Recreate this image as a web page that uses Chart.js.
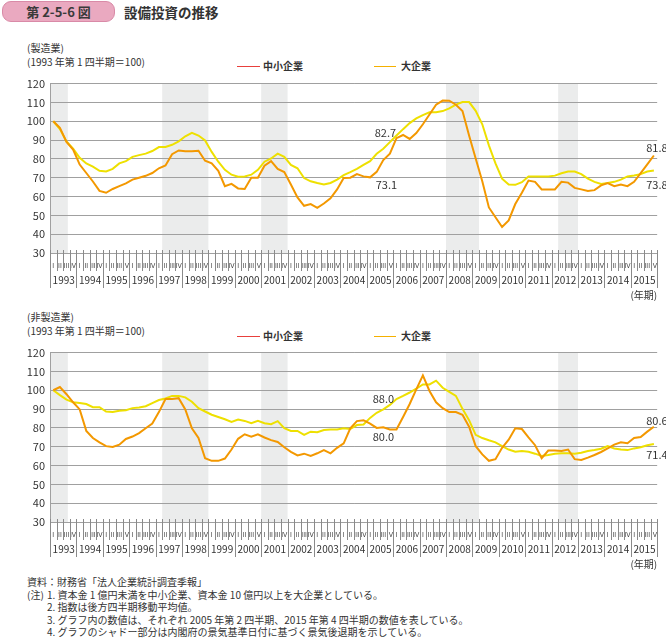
<!DOCTYPE html>
<html lang="ja">
<head>
<meta charset="utf-8">
<script src="https://cdn.jsdelivr.net/npm/chart.js@4.4.1/dist/chart.umd.min.js"></script>
<style>
  body { margin: 0; width: 666px; height: 641px; background: #fff; position: relative; overflow: hidden;
         font-family: "Noto Sans CJK JP", sans-serif; color: #333; }
  .t { position: absolute; white-space: nowrap; font-size: 10px; line-height: 12px; }
  .key { position: absolute; height: 1.5px; }
  .box { position: absolute; left: 2px; top: 1px; width: 111px; height: 19px; border-radius: 9px;
         background: #eaa9c0; border: 1px solid #d98aa7; text-align: center; line-height: 19px;
         font-size: 13px; font-weight: 700; color: #3a3a3a; }
  .chartbox { position: absolute; left: 0; width: 666px; height: 231px; }
  .notes { position: absolute; left: 27px; top: 576px; font-size: 10px; line-height: 12.5px; white-space: nowrap; }
  .notes .ind { padding-left: 20px; }
  .notes .lab { display: inline-block; width: 20px; }
</style>
</head>
<body>
<div class="box">第 2-5-6 図</div>
<div class="t" style="left:124px;top:2px;font-size:13.5px;line-height:20px;font-weight:700;">設備投資の推移</div>

<div class="t" style="left:27px;top:42px;">(製造業)</div>
<div class="t" style="left:27px;top:56px;">(1993 年第 1 四半期＝100)</div>
<div class="key" style="left:237px;top:65.5px;width:23px;background:#e8403c;"></div>
<div class="t" style="left:263px;top:60px;font-weight:700;">中小企業</div>
<div class="key" style="left:374px;top:65.5px;width:22px;background:#f5b000;"></div>
<div class="t" style="left:401px;top:60px;font-weight:700;">大企業</div>
<div class="chartbox" style="top:72px;"><canvas id="mfgChart"></canvas></div>

<div class="t" style="left:27px;top:311px;">(非製造業)</div>
<div class="t" style="left:27px;top:325px;">(1993 年第 1 四半期＝100)</div>
<div class="key" style="left:237px;top:335.5px;width:23px;background:#e8403c;"></div>
<div class="t" style="left:263px;top:330px;font-weight:700;">中小企業</div>
<div class="key" style="left:374px;top:335.5px;width:22px;background:#f5b000;"></div>
<div class="t" style="left:401px;top:330px;font-weight:700;">大企業</div>
<div class="chartbox" style="top:341px;"><canvas id="nonMfgChart"></canvas></div>

<div class="notes">
  <div>資料：財務省「法人企業統計調査季報」</div>
  <div><span class="lab">(注)</span>1. 資本金 1 億円未満を中小企業、資本金 10 億円以上を大企業としている。</div>
  <div class="ind">2. 指数は後方四半期移動平均値。</div>
  <div class="ind">3. グラフ内の数値は、それぞれ 2005 年第 2 四半期、2015 年第 4 四半期の数値を表している。</div>
  <div class="ind">4. グラフのシャドー部分は内閣府の景気基準日付に基づく景気後退期を示している。</div>
</div>

<script>
// 設備投資の推移（1993年第1四半期＝100、後方四半期移動平均）
const years = ['1993', '1994', '1995', '1996', '1997', '1998', '1999', '2000', '2001', '2002', '2003', '2004',
               '2005', '2006', '2007', '2008', '2009', '2010', '2011', '2012', '2013', '2014', '2015'];
const quarterNames = ['I', 'II', 'III', 'IV'];
const seriesNames = ['中小企業', '大企業'];

// 景気後退期（四半期番号：開始, 終了）
const recessions = [[0, 2.7], [17, 24], [32, 36], [60, 65], [77, 80]];

// 製造業
const mfgSmall = [
  100, 96.5, 89, 85, 77, 72.5, 68, 63, 62, 64, 65.5, 67, 69, 70, 71, 72.5,
  75, 76.5, 82.5, 84.5, 84, 84, 84.3, 79, 77.6, 73.7, 65.5, 66.7, 64.3, 64, 70, 70,
  76.4, 78.8, 74.7, 73, 66.4, 59.5, 55.1, 56, 54, 56.3, 59.1, 63.8, 69.8, 70, 71.9, 70.7,
  70.2, 73.1, 79.4, 82.8, 91, 92.7, 90.6, 93.7, 98.4, 103.6, 108.8, 111, 110.9, 108.8, 105.4, 92.4,
  80.2, 68.1, 54.2, 49, 43.8, 47.3, 56, 62, 68.5, 67.8, 63.8, 63.8, 63.8, 67.8, 67.4, 64.6,
  63.8, 62.9, 63.4, 65.9, 67.2, 65.5, 66.4, 65.5, 67.8, 72.4, 77.1, 81.8
];
const mfgLarge = [
  100, 95.8, 89.3, 85.4, 80.6, 77.6, 75.9, 73.7, 73.3, 74.7, 77.6, 78.8, 81.1, 82, 82.8, 84.2,
  86.3, 86.3, 87.5, 89.3, 92, 93.8, 92.4, 89.8, 83.7, 78.5, 74.2, 71.6, 70.5, 70.7, 71.6, 74.2,
  78.5, 80.2, 82.8, 81.1, 76.8, 75, 69.8, 68.1, 67.2, 66.4, 67.2, 69, 71.4, 73, 74.7, 76.8,
  78.8, 82.7, 85.4, 88.9, 92.4, 95.8, 99, 101.5, 103.3, 104.8, 104.8, 105.4, 106.8, 108.8, 110.2, 110.2,
  105.5, 98.4, 87.2, 77.6, 69.5, 66.4, 66.2, 67.6, 70.7, 70.7, 70.7, 70.7, 71.1, 72.4, 73.3, 73.3,
  71.9, 69.5, 67.8, 66.7, 67.2, 67.8, 69, 70.7, 71.2, 71.9, 73.3, 73.8
];

// 非製造業
const nonMfgSmall = [
  100, 101.7, 97.9, 93.6, 89.8, 78.4, 74.6, 72.3, 70.3, 69.9, 71.1, 74.1, 75.4, 77.2, 79.8, 82.3,
  88.4, 95.3, 95.3, 95.8, 89.8, 79.8, 74.6, 63.9, 62.5, 62.5, 63.7, 68.5, 74.2, 76.6, 75.3, 76.6,
  74.9, 73.5, 72.5, 69.7, 67.3, 65.4, 66.3, 65.1, 66.5, 68.2, 66.5, 69.4, 71.8, 79.8, 83.6, 84.1,
  82.3, 80.0, 80.3, 79.2, 79.2, 85.8, 92.7, 100.5, 107.9, 99.6, 93.6, 90.5, 88.4, 88.4, 87, 80.6,
  70.3, 65.9, 62.5, 63.4, 69.4, 73.7, 79.8, 79.4, 74.9, 70.8, 63.9, 68, 68, 67.7, 68.5, 63.4,
  63, 64.2, 65.6, 67.2, 69.1, 71.1, 72.3, 71.8, 74.6, 75.1, 78, 80.6
];
const nonMfgLarge = [
  100, 97.4, 95, 93.6, 93.2, 92.7, 91, 91, 88.7, 88.4, 89.1, 89.4, 90.5, 90.8, 91.5, 93.2,
  94.8, 95.6, 97, 97, 96.2, 93.9, 90.5, 88.7, 87, 85.8, 84.6, 83.2, 84.4, 83.7, 82.5, 83.7,
  82.5, 82, 83.6, 79.8, 78.4, 78.4, 76.3, 78, 77.7, 78.9, 79.2, 79.2, 79.8, 79.4, 81.5, 81.8,
  85.3, 88.0, 89.8, 92.2, 95.3, 97, 98.8, 100.8, 103.1, 103.1, 105.1, 101.3, 99.1, 97, 90.1, 84.1,
  76.3, 74.6, 73.4, 72.3, 70.3, 68.5, 67.3, 67.7, 67.3, 66.3, 65.1, 65.6, 66.3, 66.5, 66.5, 66.3,
  66.8, 67.7, 68.2, 68.9, 70.3, 69.1, 68.5, 68.2, 69.1, 69.7, 70.8, 71.4
];

const quarterLabels = years.flatMap(() => quarterNames);

const orange = '#f39800';
const yellow = '#eee000';
const gridGray = '#a0a0a0';
const textColor = '#333';
const jp = '"Noto Sans CJK JP", sans-serif';

// シャドー、年目盛り、数値ラベル
const decor = {
  id: 'decor',
  beforeDraw(chart) {
    const { ctx, chartArea: a, scales: { x } } = chart;
    ctx.save();
    ctx.fillStyle = '#ebecec';
    recessions.forEach(([s, e]) => {
      const x0 = x.getPixelForValue(s - 0.5);
      const x1 = x.getPixelForValue(e - 0.5);
      ctx.fillRect(x0, a.top, x1 - x0, a.bottom - a.top);
    });
    ctx.restore();
  },
  afterDraw(chart, args, opts) {
    const { ctx, chartArea: a, scales: { x, y } } = chart;
    ctx.save();
    ctx.strokeStyle = '#8a8a8a';
    ctx.lineWidth = 1;
    for (let i = 0; i <= quarterLabels.length; i++) {
      const px = Math.round(x.getPixelForValue(i - 0.5)) + 0.5;
      ctx.beginPath();
      ctx.moveTo(px, a.bottom - 3);
      ctx.lineTo(px, a.bottom + (i % 4 ? 18 : 35));
      ctx.stroke();
    }
    ctx.fillStyle = textColor;
    ctx.textBaseline = 'middle';
    ctx.textAlign = 'center';
    ctx.font = '10px ' + jp;
    years.forEach((yr, k) => {
      const cx = (x.getPixelForValue(4 * k - 0.5) + x.getPixelForValue(4 * k + 3.5)) / 2;
      ctx.fillText(yr, cx + 0.5, a.bottom + 27);
    });
    ctx.textAlign = 'right';
    ctx.fillText('(年期)', a.right, a.bottom + 42);

    ctx.font = '11px ' + jp;
    (opts.callouts || []).forEach(c => {
      const v = chart.data.datasets[c.ds].data[c.i];
      ctx.textAlign = c.align;
      ctx.fillText(v.toFixed(1), x.getPixelForValue(c.i) + c.dx, y.getPixelForValue(v) + c.dy);
    });
    ctx.restore();
  }
};

function makeChart(id, small, large, callouts) {
  return new Chart(document.getElementById(id), {
    type: 'line',
    data: {
      labels: quarterLabels,
      datasets: [
        { label: seriesNames[0], data: small, borderColor: orange, borderWidth: 2, pointRadius: 0, tension: 0 },
        { label: seriesNames[1], data: large, borderColor: yellow, borderWidth: 2, pointRadius: 0, tension: 0 },
      ],
    },
    options: {
      responsive: true,
      maintainAspectRatio: false,
      animation: false,
      layout: { padding: { top: 8, right: 8, left: 0, bottom: 0 } },
      plugins: {
        legend: { display: false },
        tooltip: { enabled: false },
        decor: { callouts },
      },
      scales: {
        x: {
          offset: true,
          grid: { display: false, drawTicks: false },
          border: { color: gridGray },
          ticks: {
            autoSkip: false, maxRotation: 0, minRotation: 0, padding: 9,
            color: '#444', font: { size: 7, family: '"Liberation Sans Narrow", "DejaVu Sans Condensed", sans-serif' },
          },
          afterFit: (s) => { s.height = 50; },
        },
        y: {
          min: 30,
          max: 120,
          ticks: { stepSize: 10, padding: 5, color: textColor, font: { size: 11, family: jp } },
          grid: { color: gridGray, drawTicks: false },
          border: { color: gridGray },
          afterFit: (s) => { s.width = 50; },
        },
      },
    },
    plugins: [decor],
  });
}

makeChart('mfgChart', mfgSmall, mfgLarge, [
  { ds: 1, i: 49, dx: -2, dy: -21, align: 'left' },
  { ds: 0, i: 49, dx: -1, dy: 13, align: 'left' },
  { ds: 0, i: 91, dx: 3, dy: -8, align: 'center' },
  { ds: 1, i: 91, dx: 3, dy: 14, align: 'center' },
]);

makeChart('nonMfgChart', nonMfgSmall, nonMfgLarge, [
  { ds: 1, i: 49, dx: -4, dy: -14, align: 'left' },
  { ds: 0, i: 49, dx: -4, dy: 9, align: 'left' },
  { ds: 0, i: 91, dx: 3, dy: -6, align: 'center' },
  { ds: 1, i: 91, dx: 3, dy: 11, align: 'center' },
]);
</script>
</body>
</html>
